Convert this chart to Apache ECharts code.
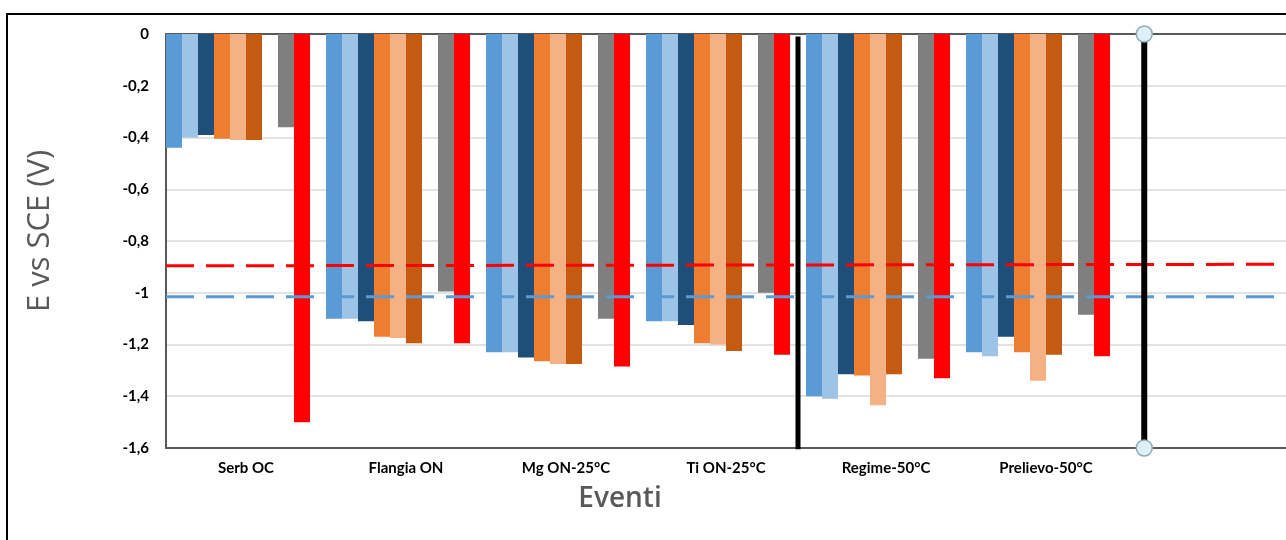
<!DOCTYPE html>
<html>
<head>
<meta charset="utf-8">
<script src="https://cdn.jsdelivr.net/npm/echarts@6/dist/echarts.min.js"></script>
<style>
  html, body { margin: 0; padding: 0; background: #fff; }
  #chart { width: 1286px; height: 540px; }
</style>
</head>
<body>
<div id="chart"></div>
<script>
// Event categories (last slot is an empty category on the axis)
const categories = ['Serb OC', 'Flangia ON', 'Mg ON-25°C', 'Ti ON-25°C', 'Regime-50°C', 'Prelievo-50°C', ''];

// Potential readings, E vs SCE (V)
const blue       = [-0.44, -1.10, -1.23, -1.11, -1.40, -1.23];
const lightBlue  = [-0.40, -1.10, -1.23, -1.11, -1.41, -1.245];
const darkBlue   = [-0.39, -1.11, -1.25, -1.125, -1.315, -1.17];
const orange     = [-0.405, -1.17, -1.265, -1.195, -1.32, -1.23];
const lightOrange= [-0.41, -1.175, -1.275, -1.20, -1.435, -1.34];
const darkOrange = [-0.41, -1.195, -1.275, -1.225, -1.315, -1.24];
const gray       = [-0.36, -0.995, -1.10, -1.00, -1.255, -1.085];
const red        = [-1.50, -1.195, -1.285, -1.24, -1.33, -1.245];

// Reference thresholds (start / end over the category span)
const redThreshold  = [-0.896, -0.890];
const blueThreshold = [-1.015, -1.015];

// Vertical separators, in category units from the left edge
const separators = [3.95, 6.114];

// Y axis ticks
const yMin = -1.6, yMax = 0, yStep = 0.2;

const chart = echarts.init(document.getElementById('chart'));

const labelFont = { fontFamily: 'Lato', fontWeight: 'bold', fontSize: 15, color: '#000' };

function barSeries(name, data, color) {
  return {
    name: name, type: 'bar', data: data,
    xAxisIndex: 0, yAxisIndex: 0,
    barGap: '0%', barCategoryGap: '0%',
    itemStyle: { color: color },
    emphasis: { disabled: true },
    z: 2
  };
}

const series = [
  barSeries('s1', blue, '#5B9BD5'),
  barSeries('s2', lightBlue, '#9DC3E6'),
  barSeries('s3', darkBlue, '#1F4E79'),
  barSeries('s4', orange, '#ED7D31'),
  barSeries('s5', lightOrange, '#F4B183'),
  barSeries('s6', darkOrange, '#C55A11'),
  barSeries('spacerA', [], 'transparent'),
  barSeries('s7', gray, '#7F7F7F'),
  barSeries('s8', red, '#FF0000'),
  barSeries('spacerB', [], 'transparent'),
  {
    name: 'redThreshold', type: 'line', xAxisIndex: 1, yAxisIndex: 0,
    data: [[0, redThreshold[0]], [7, redThreshold[1]]],
    symbol: 'none', silent: true, z: 4,
    lineStyle: { color: '#FF0000', width: 3, type: [28, 12] }
  },
  {
    name: 'blueThreshold', type: 'line', xAxisIndex: 1, yAxisIndex: 0,
    data: [[0, blueThreshold[0]], [7, blueThreshold[1]]],
    symbol: 'none', silent: true, z: 4,
    lineStyle: { color: '#5B9BD5', width: 3, type: [28, 12] }
  },
  {
    name: 'sep1', type: 'line', xAxisIndex: 1, yAxisIndex: 0,
    data: [[separators[0], -0.01], [separators[0], -1.605]],
    symbol: 'none', silent: true, z: 5,
    lineStyle: { color: '#000', width: 5 }
  },
  {
    name: 'sep2', type: 'line', xAxisIndex: 1, yAxisIndex: 0,
    data: [[separators[1], 0], [separators[1], -1.6]],
    symbol: 'circle', symbolSize: 16, showSymbol: true, silent: true, z: 5,
    lineStyle: { color: '#000', width: 6 },
    itemStyle: { color: '#DDF0F5', borderColor: '#8FA9B4', borderWidth: 1.5 }
  }
];

chart.setOption({
  backgroundColor: '#fff',
  animation: false,
  grid: { left: 166, right: 0, top: 34, bottom: 92, containLabel: false },
  xAxis: [
    {
      type: 'category', data: categories, position: 'bottom',
      axisLine: { show: true, onZero: false, lineStyle: { color: '#595959', width: 2 } },
      axisTick: { show: false },
      axisLabel: Object.assign({ margin: 13, interval: 0 }, labelFont),
      splitLine: { show: false }
    },
    {
      type: 'value', min: 0, max: 7, position: 'top',
      axisLine: { show: true, onZero: false, lineStyle: { color: '#595959', width: 2 } },
      axisTick: { show: false }, axisLabel: { show: false }, splitLine: { show: false }
    }
  ],
  yAxis: {
    type: 'value', min: yMin, max: yMax, interval: yStep,
    axisLine: { show: true, onZero: false, lineStyle: { color: '#595959', width: 2 } },
    axisTick: { show: false },
    axisLabel: Object.assign({
      margin: 17,
      formatter: v => String(+v.toFixed(1)).replace('.', ',')
    }, labelFont),
    splitLine: { show: true, lineStyle: { color: '#D9D9D9', width: 1.5 } }
  },
  graphic: [
    {
      type: 'rect', silent: true, z: 10,
      shape: { x: 7, y: 14, width: 1400, height: 700 },
      style: { fill: 'none', stroke: '#000', lineWidth: 2 }
    },
    {
      type: 'text', silent: true, z: 10,
      x: 40, y: 231, rotation: Math.PI / 2,
      style: {
        text: 'E vs SCE (V)', fill: '#595959',
        font: '31px "Open Sans"', align: 'center', verticalAlign: 'middle'
      }
    },
    {
      type: 'text', silent: true, z: 10,
      x: 620, y: 499,
      style: {
        text: 'Eventi', fill: '#595959',
        font: '600 28px "Open Sans"', align: 'center', verticalAlign: 'middle'
      }
    }
  ],
  series: series
});
</script>
</body>
</html>
